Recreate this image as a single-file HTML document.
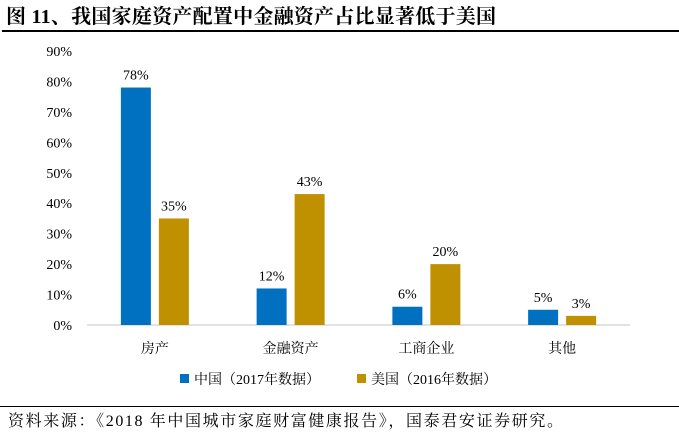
<!DOCTYPE html>
<html><head><meta charset="utf-8"><style>
body{margin:0;width:679px;height:434px;background:#fff;overflow:hidden;font-family:"Liberation Serif","Noto Serif CJK SC",serif;}
svg text{font-family:"Liberation Serif","Noto Serif CJK SC",serif;}
</style></head><body>
<svg id="c" width="679" height="434">
<text x="6" y="23" font-size="20" font-weight="bold" fill="#000" textLength="490" lengthAdjust="spacing">图 11、我国家庭资产配置中金融资产占比显著低于美国</text>
<rect x="2" y="30" width="677" height="2" fill="#000"/>
<g id="plot"></g>
<rect x="180" y="374" width="9" height="9" fill="#0070C0"/>
<text x="194" y="384" font-size="14">中国（2017年数据）</text>
<rect x="357" y="374" width="9" height="9" fill="#BF9000"/>
<text x="371" y="384" font-size="14">美国（2016年数据）</text>
<rect x="0" y="406" width="679" height="1" fill="#000"/>
<text x="8" y="426" font-size="16" textLength="555" lengthAdjust="spacing">资料来源：《2018 年中国城市家庭财富健康报告》，国泰君安证券研究。</text>
</svg>
<script>
const categories=["房产","金融资产","工商企业","其他"];
const chinaValues=[78,12,6,5];
const usValues=[35,43,20,3];
const tickLabels=["0%","10%","20%","30%","40%","50%","60%","70%","80%","90%"];
const NS="http://www.w3.org/2000/svg";
const g=document.getElementById('plot');
const y0=325,yTop=51,xL=87,xR=630;
const y=v=>y0-(v/90)*(y0-yTop);
const band=(xR-xL)/categories.length;
const cx=i=>xL+band*(i+0.5);
function mk(t,a){const e=document.createElementNS(NS,t);for(const k in a)e.setAttribute(k,a[k]);g.appendChild(e);return e;}
tickLabels.forEach((t,i)=>{
const e=mk('text',{x:72,y:y(i*10)+5,'font-size':14,'text-anchor':'end'});e.textContent=t;


});
const ax=mk('line',{x1:xL,x2:xR,y1:y0,y2:y0,stroke:'#d9d9d9','stroke-width':1.5});


const bw=30,gap=8;
categories.forEach((c,i)=>{
const l=mk('text',{x:cx(i),y:353,'font-size':14,'text-anchor':'middle'});l.textContent=c;


[[chinaValues,'#0070C0',-gap/2-bw,'china'],[usValues,'#BF9000',gap/2,'us']].forEach(([arr,col,off,nm])=>{
const v=arr[i],x=cx(i)+off;
const r=mk('rect',{x:x,y:y(v),width:bw,height:y0-y(v),fill:col});


const t=mk('text',{x:x+bw/2,y:y(v)-8,'font-size':14,'text-anchor':'middle'});t.textContent=v+'%';


});
});
</script>
</body></html>
